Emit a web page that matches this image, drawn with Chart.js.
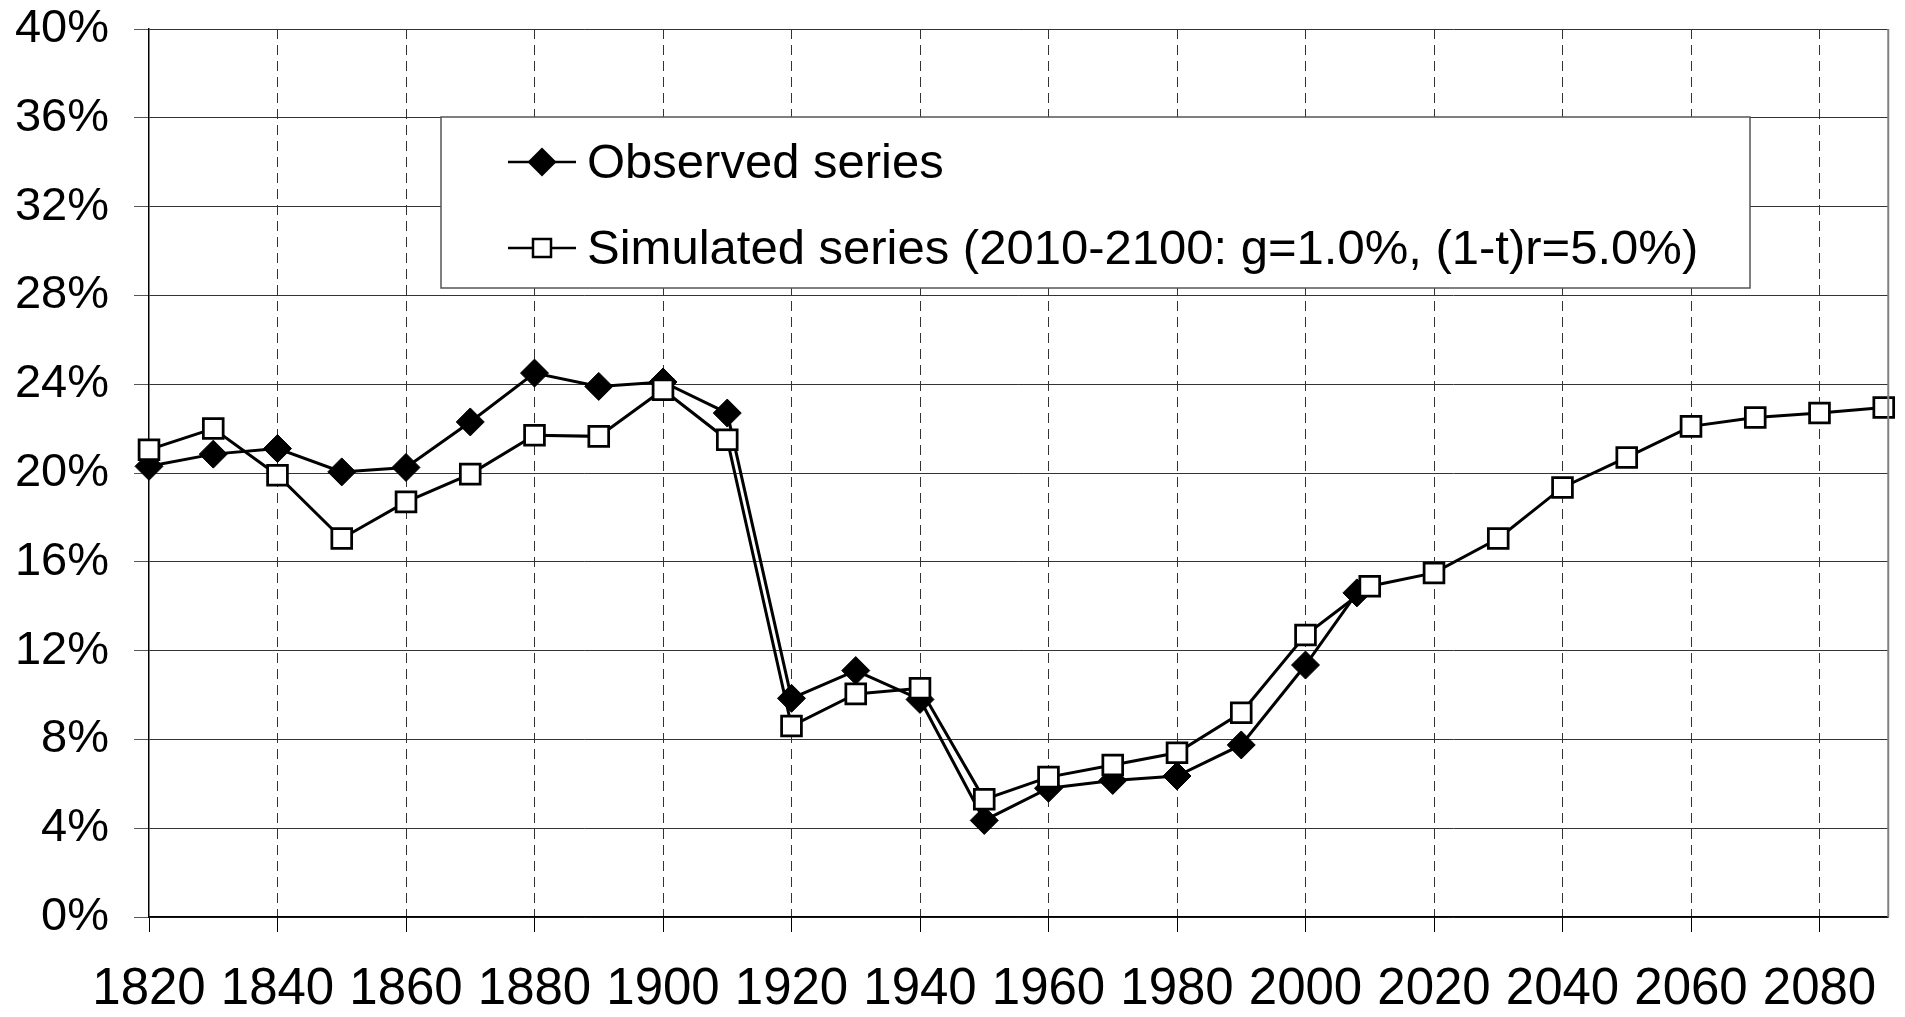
<!DOCTYPE html>
<html>
<head>
<meta charset="utf-8">
<script src="https://cdn.jsdelivr.net/npm/chart.js@4.4.1/dist/chart.umd.min.js"></script>
<style>
html,body{margin:0;padding:0;background:#fff;}
#wrap{width:1905px;height:1017px;position:relative;}
</style>
</head>
<body>
<div id="wrap"><canvas id="c"></canvas></div>
<script>
const observedYears = [1820,1830,1840,1850,1860,1870,1880,1890,1900,1910,1920,1930,1940,1950,1960,1970,1980,1990,2000,2008];
const observedValues = [20.3,20.85,21.1,20.05,20.25,22.3,24.5,23.9,24.1,22.7,9.85,11.1,9.8,4.35,5.8,6.15,6.35,7.75,11.35,14.6];
const simulatedYears = [1820,1830,1840,1850,1860,1870,1880,1890,1900,1910,1920,1930,1940,1950,1960,1970,1980,1990,2000,2010,2020,2030,2040,2050,2060,2070,2080,2090];
const simulatedValues = [21.05,22.0,19.9,17.05,18.7,19.95,21.7,21.65,23.75,21.5,8.6,10.05,10.3,5.3,6.3,6.85,7.4,9.2,12.7,14.9,15.5,17.05,19.35,20.7,22.1,22.5,22.7,22.95];
const xTickYears = [1820,1840,1860,1880,1900,1920,1940,1960,1980,2000,2020,2040,2060,2080];
const yTickValues = [0,4,8,12,16,20,24,28,32,36,40];
const seriesLabels = ['Observed series', 'Simulated series (2010-2100: g=1.0%, (1-t)r=5.0%)'];

const FONT = '"Liberation Sans", Arial, Helvetica, sans-serif';

const toPoints = (xs, ys) => xs.map((x, i) => ({x: x, y: ys[i]}));

const noScalePadding = (scale) => {
  scale.paddingTop = 0;
  scale.paddingBottom = 0;
  scale.paddingLeft = 0;
  scale.paddingRight = 0;
};

const boxLegend = {
  id: 'boxLegend',
  afterDraw(chart, args, opts) {
    const ctx = chart.ctx;
    const ca = chart.chartArea;
    ctx.save();
    // right frame of plot area
    ctx.strokeStyle = '#808080';
    ctx.lineWidth = 2;
    ctx.beginPath();
    ctx.moveTo(ca.right, ca.top);
    ctx.lineTo(ca.right, ca.bottom);
    ctx.stroke();
    // legend box
    const b = opts.box;
    ctx.fillStyle = '#ffffff';
    ctx.fillRect(b.left, b.top, b.right - b.left, b.bottom - b.top);
    ctx.strokeStyle = '#555555';
    ctx.lineWidth = 1.5;
    ctx.strokeRect(b.left, b.top, b.right - b.left, b.bottom - b.top);
    chart.data.datasets.forEach((ds, i) => {
      const y = opts.rows[i];
      ctx.strokeStyle = '#000';
      ctx.lineWidth = 2.5;
      ctx.beginPath();
      ctx.moveTo(opts.lineX1, y);
      ctx.lineTo(opts.lineX2, y);
      ctx.stroke();
      const cx = (opts.lineX1 + opts.lineX2) / 2;
      if (ds.pointStyle === 'rectRot') {
        const r = 14.5;
        ctx.fillStyle = '#000';
        ctx.beginPath();
        ctx.moveTo(cx, y - r);
        ctx.lineTo(cx + r, y);
        ctx.lineTo(cx, y + r);
        ctx.lineTo(cx - r, y);
        ctx.closePath();
        ctx.fill();
      } else {
        const s = 18;
        ctx.fillStyle = '#fff';
        ctx.fillRect(cx - s / 2, y - s / 2, s, s);
        ctx.strokeStyle = '#000';
        ctx.lineWidth = 2.5;
        ctx.strokeRect(cx - s / 2, y - s / 2, s, s);
      }
      ctx.fillStyle = '#000';
      ctx.font = '49px ' + FONT;
      ctx.textBaseline = 'middle';
      ctx.textAlign = 'left';
      ctx.fillText(ds.label, opts.textX, y + opts.textShift);
    });
    ctx.restore();
  }
};

new Chart(document.getElementById('c'), {
  type: 'line',
  data: {
    datasets: [
      {
        label: seriesLabels[0],
        data: toPoints(observedYears, observedValues),
        borderColor: '#000',
        borderWidth: 3,
        backgroundColor: '#000',
        pointStyle: 'rectRot',
        pointRadius: 14,
        pointHoverRadius: 14,
        pointBackgroundColor: '#000',
        pointBorderColor: '#000',
        pointBorderWidth: 1,
        tension: 0,
        clip: false,
        order: 1
      },
      {
        label: seriesLabels[1],
        data: toPoints(simulatedYears, simulatedValues),
        borderColor: '#000',
        borderWidth: 3,
        backgroundColor: '#fff',
        pointStyle: 'rect',
        pointRadius: 14,
        pointHoverRadius: 14,
        pointBackgroundColor: '#fff',
        pointBorderColor: '#000',
        pointBorderWidth: 2.75,
        tension: 0,
        clip: false,
        order: 0
      }
    ]
  },
  options: {
    responsive: true,
    maintainAspectRatio: false,
    animation: false,
    events: [],
    layout: { padding: { top: 29, right: 11, left: 0, bottom: 0 } },
    plugins: {
      legend: { display: false },
      tooltip: { enabled: false },
      boxLegend: {
        box: { left: 441, top: 117, right: 1750, bottom: 288 },
        rows: [162, 248],
        textShift: 2,
        lineX1: 508,
        lineX2: 576,
        textX: 587
      }
    },
    scales: {
      x: {
        type: 'linear',
        min: 1820,
        max: 2090.7,
        afterBuildTicks: (scale) => { scale.ticks = xTickYears.map(v => ({value: v})); },
        afterFit: (scale) => { scale.height = 100; noScalePadding(scale); },
        ticks: {
          autoSkip: false,
          maxRotation: 0,
          minRotation: 0,
          includeBounds: false,
          padding: 27,
          color: '#000',
          font: { family: FONT, size: 51 },
          callback: (v) => String(v)
        },
        grid: {
          color: (c) => (c.tick && c.tick.value === xTickYears[0]) ? 'rgba(0,0,0,0)' : '#333333',
          tickColor: '#000',
          lineWidth: 1,
          tickLength: 15,
          drawTicks: true
        },
        border: { display: true, color: '#000', width: 1.5, dash: [10, 6] }
      },
      y: {
        type: 'linear',
        min: 0,
        max: 40,
        afterBuildTicks: (scale) => { scale.ticks = yTickValues.map(v => ({value: v})); },
        afterFit: (scale) => { scale.width = 149; noScalePadding(scale); },
        ticks: {
          padding: 25,
          color: '#000',
          font: { family: FONT, size: 47 },
          callback: (v) => v + '%'
        },
        grid: {
          color: '#333333',
          lineWidth: 1,
          tickLength: 15,
          tickColor: '#555'
        },
        border: { display: true, color: '#000', width: 1.5 }
      }
    }
  },
  plugins: [boxLegend]
});
</script>
</body>
</html>
